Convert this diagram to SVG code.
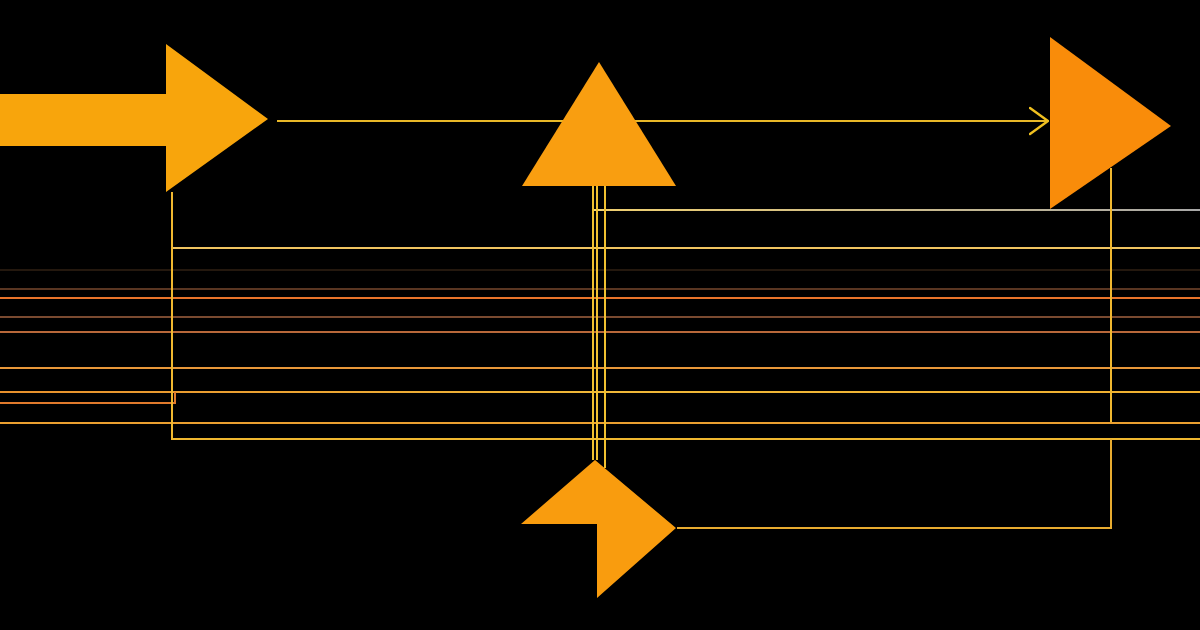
<svg xmlns="http://www.w3.org/2000/svg" width="1200" height="630" viewBox="0 0 1200 630">
<defs>
<linearGradient id="gGrey" x1="593" y1="0" x2="1200" y2="0" gradientUnits="userSpaceOnUse">
<stop offset="0" stop-color="#f0d070"/>
<stop offset="1" stop-color="#a8a8a8"/>
</linearGradient>
<linearGradient id="g392" x1="0" y1="0" x2="1200" y2="0" gradientUnits="userSpaceOnUse">
<stop offset="0" stop-color="#e8902c"/>
<stop offset="0.5" stop-color="#f0b838"/>
<stop offset="1" stop-color="#f0b030"/>
</linearGradient>
<marker id="chev" viewBox="0 0 20 30" refX="19" refY="15" markerWidth="20" markerHeight="30" markerUnits="userSpaceOnUse" orient="auto">
<path d="M1,2 L19,15 L1,28" fill="none" stroke="#f0c020" stroke-width="2.4" stroke-linecap="round"/>
</marker>
<style>
.ln{fill:none;stroke-width:2;}
.y{stroke:#ecb52c;}
.o{stroke:#e07a28;}
.shape{stroke:none;}
</style>
</defs>
<rect width="1200" height="630" fill="#000"/>
<g id="connectors">
<line class="ln" x1="277" y1="121" x2="1048" y2="121" stroke="#e8b828" marker-end="url(#chev)"/>
<line class="ln" x1="593" y1="210" x2="1200" y2="210" stroke="url(#gGrey)"/>
<line class="ln" x1="172" y1="248" x2="1200" y2="248" stroke="#f0c460"/>
<line class="ln" x1="0" y1="270" x2="1200" y2="270" stroke="#24180e"/>
<line class="ln" x1="0" y1="289" x2="1200" y2="289" stroke="#5a3622"/>
<line class="ln" x1="0" y1="298" x2="1200" y2="298" stroke="#e8742a" stroke-width="2.6"/>
<line class="ln" x1="0" y1="317" x2="1200" y2="317" stroke="#7a4a30"/>
<line class="ln" x1="0" y1="332" x2="1200" y2="332" stroke="#b8683a"/>
<line class="ln" x1="0" y1="368" x2="1200" y2="368" stroke="#e8983a"/>
<line class="ln" x1="0" y1="392" x2="1200" y2="392" stroke="url(#g392)"/>
<polyline class="ln" points="0,403 175,403 175,392" stroke="#e07a2c"/>
<line class="ln" x1="0" y1="423" x2="1200" y2="423" stroke="#eba030"/>
<polyline class="ln" points="172,192 172,439 1200,439" stroke="#f0b830"/>
<line class="ln" x1="593" y1="186" x2="593" y2="460" stroke="#f0c030"/>
<line class="ln" x1="597" y1="186" x2="597" y2="460" stroke="#f0c030"/>
<line class="ln" x1="605" y1="186" x2="605" y2="468" stroke="#f0c030"/>
<line class="ln" x1="1111" y1="168" x2="1111" y2="422" stroke="#f0b830"/>
<polyline class="ln" points="1111,439 1111,528 677,528" stroke="#e8ac30"/>
</g>
<g id="node-arrow">
<polygon class="shape" fill="#f8a50c" points="0,94 166,94 166,44 268,119 166,192 166,146 0,146"/>
</g>
<g id="node-triangle-top">
<polygon class="shape" fill="#f99e10" points="599,62 676,186 522,186"/>
</g>
<g id="node-triangle-right">
<polygon class="shape" fill="#f98c0a" points="1050,37 1171,126 1050,209"/>
</g>
<g id="node-bottom">
<polygon class="shape" fill="#f99c0e" points="595,460 676,528 597,598 597,524 521,524"/>
</g>
</svg>
